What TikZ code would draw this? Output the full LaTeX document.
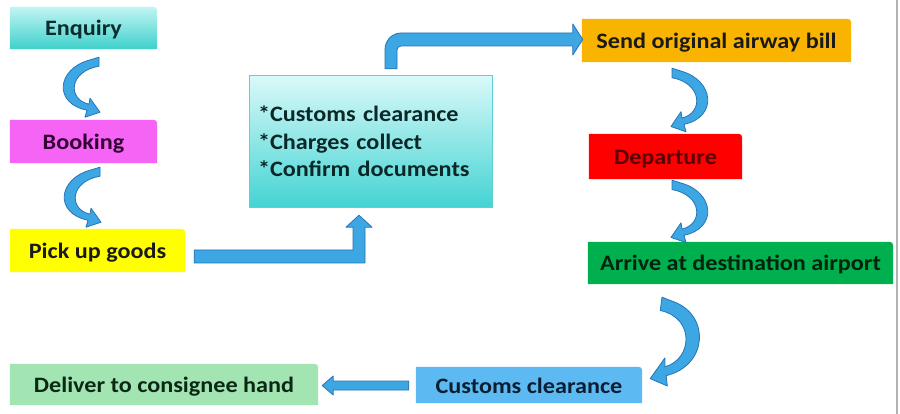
\documentclass[tikz,border=0pt]{standalone}
\usepackage{fontspec}
\setmainfont{Carlito}[FakeStretch=1.1]
\usetikzlibrary{calc,backgrounds}
\definecolor{enqtop}{HTML}{C2F5F3}
\definecolor{enqbot}{HTML}{3ED0CC}
\definecolor{bookc}{HTML}{F664F5}
\definecolor{pickc}{HTML}{FFFF00}
\definecolor{sendc}{HTML}{F8B400}
\definecolor{depc}{HTML}{FF0000}
\definecolor{arrc}{HTML}{00B04F}
\definecolor{custc}{HTML}{5CB9F1}
\definecolor{delc}{HTML}{A2E5B2}
\definecolor{bigtop}{HTML}{DAF9F9}
\definecolor{bigbot}{HTML}{44D3D3}
\definecolor{bigline}{HTML}{5FD0D8}
\definecolor{arrfill}{HTML}{3DA7E4}
\definecolor{arrline}{HTML}{2674B5}
\definecolor{txt}{HTML}{1A1A1A}
\definecolor{deptxt}{HTML}{5C0000}
\newcommand\tabshape[2]{\path[#2] (#1.south west) -- (#1.north west) -- ($(#1.north east)+(-8,0)$) .. controls (#1.north east) .. ($(#1.north east)+(0,8)$) -- (#1.south east) -- cycle;}
\tikzset{
  lbl/.style={font=\bfseries\fontsize{22}{27.5}\selectfont, text=txt, inner sep=0pt},
  tab/.style={lbl, text height=16pt, text depth=0pt},
  arrowsty/.style={fill=arrfill, draw=arrline, line width=0.8pt, line join=round},
  crescent/.pic={\path[arrowsty] (-10,3) .. controls (-42,12) and (-46,46) .. (-12,53) -- (-14,60) -- (1,55) -- (-9,41) -- (-10,47) .. controls (-32,42) and (-30,14) .. (0,9) -- (0,0) -- cycle;}
}
\begin{document}
\begin{tikzpicture}[x=1pt,y=-1pt]
\useasboundingbox (0,0) rectangle (900,414);

% nodes
\node[tab, minimum width=147pt, minimum height=42pt, text={rgb,255:red,10;green,45;blue,45}] (enq) at (83.5,28) {Enquiry};
\node[tab, minimum width=147pt, minimum height=43pt, text={rgb,255:red,50;green,0;blue,50}] (book) at (83.5,141.5) {Booking};
\node[tab, minimum width=175pt, minimum height=43pt] (pick) at (97.5,250.5) {Pick up goods};
\node[lbl, align=left, text width=226pt, minimum width=242pt, minimum height=131pt, inner sep=8pt, text={rgb,255:red,10;green,40;blue,40}] (big) at (371,141.5) {{*}Customs clearance\\{*}Charges collect\\{*}Confirm documents};
\node[tab, minimum width=269pt, minimum height=43pt] (send) at (716.5,40.5) {Send original airway bill};
\node[tab, minimum width=153pt, minimum height=45pt, text=deptxt] (dep) at (665.5,156.5) {Departure};
\node[tab, minimum width=305pt, minimum height=42pt, text={rgb,255:red,0;green,35;blue,15}] (arr) at (740.5,263) {Arrive at destination airport};
\node[tab, minimum width=226pt, minimum height=36pt, text={rgb,255:red,10;green,30;blue,50}] (cust) at (529,385) {Customs clearance};
\node[tab, minimum width=308pt, minimum height=41pt, text={rgb,255:red,10;green,40;blue,20}] (del) at (164,384.5) {Deliver to consignee hand};

% backgrounds
\begin{scope}[on background layer]
\fill[white] (0,0) rectangle (900,414);
\draw[gray!60, line width=2pt] (897,0) -- (897,414);
\tabshape{enq}{top color=enqtop, bottom color=enqbot}
\tabshape{book}{fill=bookc}
\tabshape{pick}{fill=pickc}
\shade[top color=bigtop, bottom color=bigbot] (big.south west) rectangle (big.north east);
\draw[bigline, line width=0.8pt] (big.south west) rectangle (big.north east);
\tabshape{send}{fill=sendc}
\tabshape{dep}{fill=depc}
\tabshape{arr}{fill=arrc}
\tabshape{cust}{fill=custc}
\tabshape{del}{fill=delc}
\end{scope}

% curved connectors
\pic at ($(enq.south)+(15.5,8)$) {crescent};
\pic at ($(book.south)+(16.5,4)$) {crescent};
\pic[xscale=-1, yscale=1.06] at ($(send.south)+(-44.5,6)$) {crescent};
\pic[xscale=-1, yscale=1.04] at ($(dep.south)+(6.5,1)$) {crescent};
\pic[xscale=-1.2, yscale=1.48, xslant=-0.16] at ($(arr.south)+(-78.5,13)$) {crescent};

% straight connector customs -> deliver
\coordinate (a1) at ($(cust.west)+(-7,0.5)$);
\coordinate (t1) at ($(del.east)+(4,1)$);
\path[arrowsty] ($(a1)+(0,-4.5)$) -- ($(t1)+(11,-4.5)$) -- ($(t1)+(11,-9.5)$) -- (t1) -- ($(t1)+(11,9.5)$) -- ($(t1)+(11,4.5)$) -- ($(a1)+(0,4.5)$) -- cycle;

% L connector pick -> big
\coordinate (s2) at ($(pick.east)+(9,6)$);
\coordinate (t2) at ($(big.south)+(-12,8)$);
\coordinate (c2) at (t2 |- s2);
\path[arrowsty] ($(s2)+(0,-6.5)$) -- ($(c2)+(-6,-6.5)$) -- ($(t2)+(-6,12)$) -- ($(t2)+(-13,12)$) -- (t2) -- ($(t2)+(13,12)$) -- ($(t2)+(6,12)$) -- ($(c2)+(6,6.5)$) -- ($(s2)+(0,6.5)$) -- cycle;

% L connector big -> send
\coordinate (s3) at ($(big.north)+(20,-7)$);
\coordinate (t3) at ($(send.west)+(1,-1)$);
\coordinate (c3) at (s3 |- t3);
\path[arrowsty] ($(s3)+(-6,0)$) -- ($(c3)+(-6,10)$) to[out=90,in=180] ($(c3)+(10,-6.5)$) -- ($(t3)+(-10,-6.5)$) -- ($(t3)+(-10,-15.5)$) -- (t3) -- ($(t3)+(-10,15.5)$) -- ($(t3)+(-10,6.5)$) -- ($(c3)+(10,6.5)$) to[out=180,in=90] ($(c3)+(6,10.5)$) -- ($(s3)+(6,0)$) -- cycle;
\end{tikzpicture}
\end{document}
